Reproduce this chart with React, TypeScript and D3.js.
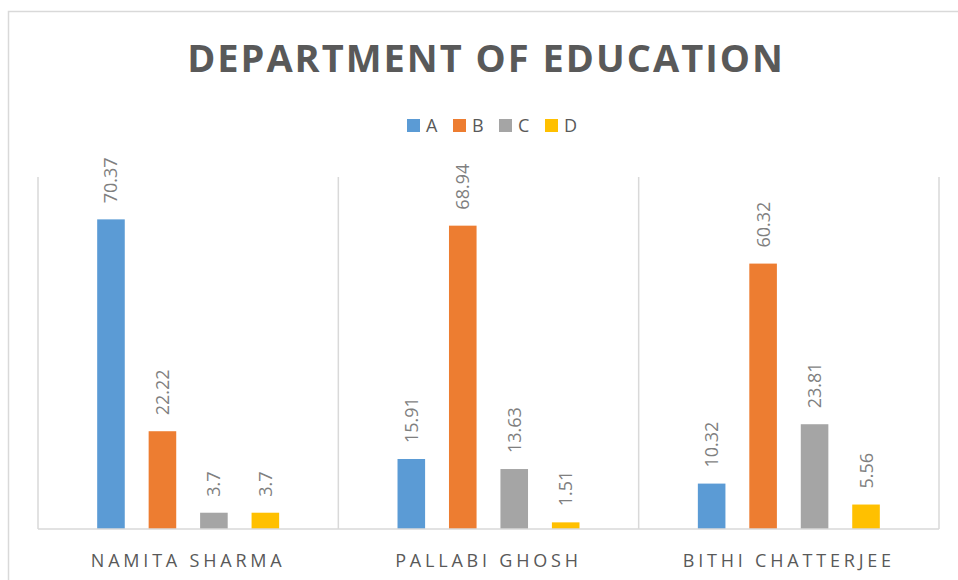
import React from 'react';
import * as d3 from 'd3';

const categories = ['NAMITA SHARMA', 'PALLABI GHOSH', 'BITHI CHATTERJEE'];
const seriesNames = ['A', 'B', 'C', 'D'];
const seriesA = [70.37, 15.91, 10.32];
const seriesB = [22.22, 68.94, 60.32];
const seriesC = [3.7, 13.63, 23.81];
const seriesD = [3.7, 1.51, 5.56];
const colors = ['#5b9bd5', '#ed7d31', '#a5a5a5', '#ffc000'];

const values = [seriesA, seriesB, seriesC, seriesD];

const App: React.FC = () => {
  const width = 958;
  const height = 580;
  // plot area (page coords)
  const left = 38, right = 939, top = 177, bottom = 529;

  const x = d3.scaleBand().domain(categories).range([left, right]).padding(0);
  const xInner = d3.scaleBand()
    .domain(seriesNames)
    .range([0, x.bandwidth()])
    .paddingInner(0.464)
    .paddingOuter(1.15);
  const y = d3.scaleLinear().domain([0, 80]).range([bottom, top]);

  const font = "'Open Sans', sans-serif";
  const boundaries = [...categories.map(c => x(c) as number), right];

  // legend layout
  const legendStep = 46;
  const legendX0 = 407;

  return (
    <svg width={width} height={height} style={{ position: 'absolute', left: 0, top: 0, background: '#fff' }}>
      {/* chart frame */}
      <rect x={8.5} y={11.5} width={1000} height={1000} fill="#fff" stroke="#d9d9d9" strokeWidth={1.5} />

      <text x={486} y={72} textAnchor="middle" fontFamily={font} fontWeight={700}
        fontSize={38} letterSpacing={2} fill="#595959">DEPARTMENT OF EDUCATION</text>

      {/* legend */}
      {seriesNames.map((s, i) => (
        <g key={s} transform={`translate(${legendX0 + i * legendStep},119)`}>
          <rect width={13} height={13} fill={colors[i]} />
          <text x={19} y={13} fontFamily={font} fontSize={18} fill="#595959">{s}</text>
        </g>
      ))}

      {/* vertical gridlines at category boundaries */}
      {boundaries.map((b, i) => (
        <line key={i} x1={b} x2={b} y1={top} y2={bottom} stroke="#d9d9d9" strokeWidth={1.5} />
      ))}

      {/* bars */}
      {categories.map((c, ci) => (
        <g key={c} transform={`translate(${x(c)},0)`}>
          {seriesNames.map((s, si) => {
            const v = values[si][ci];
            const bx = xInner(s) as number;
            const bw = xInner.bandwidth();
            return (
              <g key={s}>
                <rect x={bx} y={y(v)} width={bw} height={bottom - y(v)} fill={colors[si]} />
                <text transform={`translate(${bx + bw / 2 + 6.5},${y(v) - 16}) rotate(-90)`}
                  fontFamily={font} fontSize={18} fill="#7f7f7f">{v}</text>
              </g>
            );
          })}
        </g>
      ))}

      {/* category axis line */}
      <line x1={left} x2={right} y1={bottom} y2={bottom} stroke="#d9d9d9" strokeWidth={1.5} />

      {categories.map(c => (
        <text key={c} x={(x(c) as number) + x.bandwidth() / 2} y={567} textAnchor="middle"
          fontFamily={font} fontSize={18} letterSpacing={3.8} fill="#595959">{c}</text>
      ))}
    </svg>
  );
};

export default App;
